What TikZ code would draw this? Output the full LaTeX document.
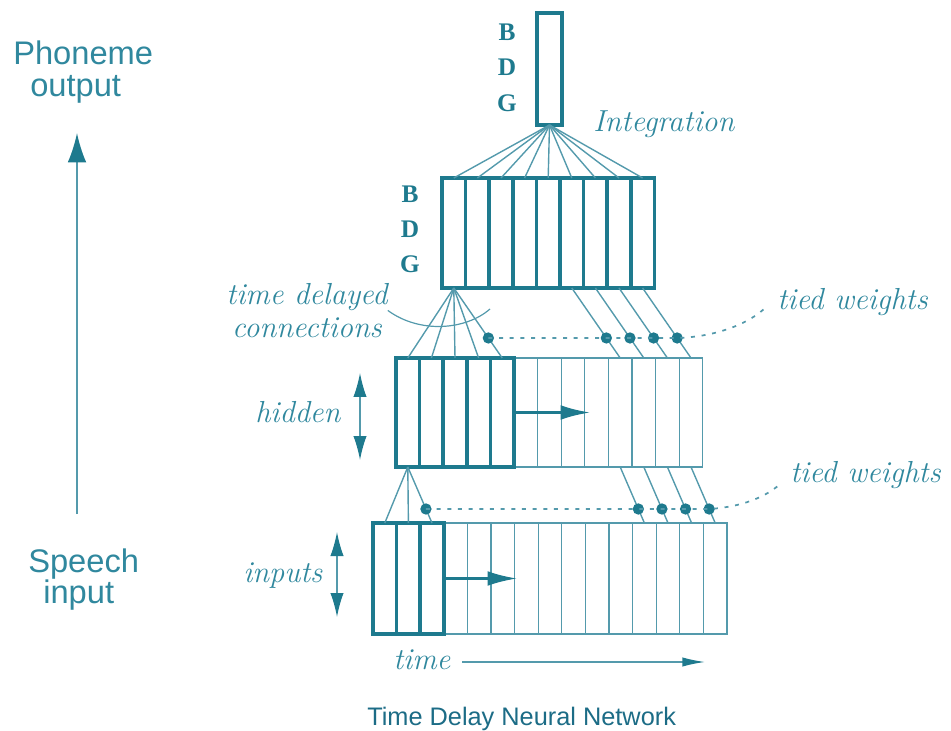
\documentclass[tikz,border=0pt]{standalone}
\usepackage{fontspec}
\newfontfamily\labelsans{Liberation Sans}
\newfontfamily\letterserif{Liberation Serif}
\usetikzlibrary{arrows.meta}
\definecolor{tdark}{RGB}{30,122,142}
\definecolor{tlight}{RGB}{84,154,172}
\definecolor{ttext}{RGB}{48,136,158}
\definecolor{tcap}{RGB}{28,108,134}

\begin{document}
\begin{tikzpicture}[x=0.75pt,y=-0.75pt,
  cellbase/.style={rectangle, inner sep=0pt, outer sep=0pt, anchor=north west, minimum width=17.7pt},
  thickcell/.style={cellbase, draw=tdark, line width=2.6pt},
  thincell/.style={cellbase, draw=tlight, line width=0.95pt},
  conn/.style={draw=tlight, line width=1.05pt},
  dot/.style={circle, fill=tdark, inner sep=0pt, minimum size=8.5pt},
  tied/.style={draw=tlight, line width=1.3pt, dash pattern=on 3pt off 5pt},
  lab/.style={text=ttext, inner sep=0pt, font=\fontsize{22.8}{24.75}\selectfont\itshape},
  letter/.style={text=tdark, inner sep=0pt, anchor=base, font=\letterserif\bfseries\fontsize{19}{22}\selectfont},
  sans/.style={text=ttext, inner sep=0pt, anchor=base west, font=\labelsans\fontsize{24.5}{26}\selectfont},
  fwd/.style={draw=tdark, line width=1.9pt, -{Latex[length=22pt,width=11pt]}},
  updown/.style={draw=tlight, line width=1pt,
    {Latex[length=18pt,width=10pt,color=tdark]}-{Latex[length=18pt,width=10pt,color=tdark]}},
]
\useasboundingbox (0,0) rectangle (951,731);

% ---- output unit ----
\node[cellbase, draw=tdark, line width=2.6pt, minimum width=18.75pt, minimum height=84pt] (out) at (537,13) {};
\node[letter] (bo) at (507,41) {B};
\node[letter] (do) at (507,76) {D};
\node[letter] (go) at (507,112) {G};
\node[lab, anchor=base west] (integ) at (593,132) {Integration};

% ---- phoneme layer ----
\foreach \i in {1,...,9}
  \node[thickcell, minimum height=82.5pt] (c\i) at ({442+(\i-1)*23.6},178) {};
\node[letter] (b2) at (410,203) {B};
\node[letter] (d2) at (410,238) {D};
\node[letter] (g2) at (410,273) {G};

% ---- hidden layer ----
\foreach \i in {6,...,13}
  \node[thincell, minimum height=81.75pt] (h\i) at ({396+(\i-1)*23.6},358) {};
\foreach \i in {1,...,5}
  \node[thickcell, minimum height=81.75pt] (h\i) at ({396+(\i-1)*23.6},358) {};

% ---- input layer ----
\foreach \i in {4,...,15}
  \node[thincell, minimum height=83.25pt] (i\i) at ({373+(\i-1)*23.6},523) {};
\foreach \i in {1,...,3}
  \node[thickcell, minimum height=83.25pt] (i\i) at ({373+(\i-1)*23.6},523) {};

% ---- integration fan ----
\foreach \i in {1,...,9}
  \draw[conn] (out.south) -- (c\i.north);

% ---- phoneme layer <- hidden layer ----
\foreach \i in {1,...,4}
  \draw[conn] (c1.south) -- (h\i.north);
\draw[conn] (c1.south) -- (h5.north) node[dot, pos=0.714] (d1) {};
\foreach \i [evaluate=\i as \j using {int(\i+4)}] in {6,...,9}
  \draw[conn] (c\i.south) -- (h\j.north) node[dot, pos=0.714] (d\i) {};

% ---- hidden layer <- input layer ----
\foreach \i in {1,2}
  \draw[conn] (h1.south) -- (i\i.north);
\draw[conn] (h1.south) -- (i3.north) node[dot, pos=0.75] (e1) {};
\foreach \i [evaluate=\i as \j using {int(\i+2)}] in {10,...,13}
  \draw[conn] (h\i.south) -- (i\j.north) node[dot, pos=0.75] (e\i) {};

% ---- tied weights ----
\node[lab, anchor=base west] (tw1) at (777,310) {tied weights};
\node[lab, anchor=base west] (tw2) at (790,483) {tied weights};
\coordinate (tw1end) at (764,309);
\coordinate (tw2end) at (779,485);
\draw[tied] (d1.center) -- (d9.center) .. controls (712,337) and (745,326) .. (tw1end);
\draw[tied] (e1.center) -- (e13.center) .. controls (742,507) and (765,497) .. (tw2end);

% ---- time delayed connections ----
\node[lab, align=center, anchor=north] (tdc) at (307,283) {time delayed\\connections};
\coordinate (tdcend) at (490,309);
\draw[conn, line width=0.9pt] (tdc.east) .. controls (420,334) and (466,330) .. (tdcend);

% ---- shifting windows ----
\coordinate (hshift) at (590,412.5);
\coordinate (ishift) at (517,578.5);
\draw[fwd] (h5.east) -- (hshift);
\draw[fwd] (i3.east) -- (ishift);

% ---- unit ranges ----
\node[lab, anchor=base west] (hid) at (255,422) {hidden};
\node[lab, anchor=base west] (inp) at (243,582) {inputs};
\coordinate (hup) at (360,373);
\coordinate (hdn) at (360,460);
\coordinate (iup) at (337,532);
\coordinate (idn) at (337,617);
\draw[updown] (hup) -- (hdn);
\draw[updown] (iup) -- (idn);

% ---- time axis ----
\node[lab, anchor=base west] (tm) at (393,669) {time};
\coordinate (tstart) at (462,662);
\coordinate (tend) at (705,662);
\draw[draw=tlight, line width=1.1pt, -{Latex[length=17pt,width=7pt,color=tdark]}] (tstart) -- (tend);

% ---- processing direction ----
\node[sans] (ph) at (13,65) {Phoneme};
\node[sans] (po) at (30,97) {output};
\node[sans] (sp) at (28,572) {Speech};
\node[sans] (si) at (43,603) {input};
\coordinate (dirlow) at (77,514);
\coordinate (dirhigh) at (77,133);
\draw[draw=tlight, line width=1.4pt, -{Latex[length=22pt,width=14pt,color=tdark]}] (dirlow) -- (dirhigh);

% ---- caption ----
\node[text=tcap, inner sep=0pt, anchor=base west, font=\labelsans\fontsize{19}{22}\selectfont] (cap) at (367,725) {Time Delay Neural Network};
\end{tikzpicture}
\end{document}
